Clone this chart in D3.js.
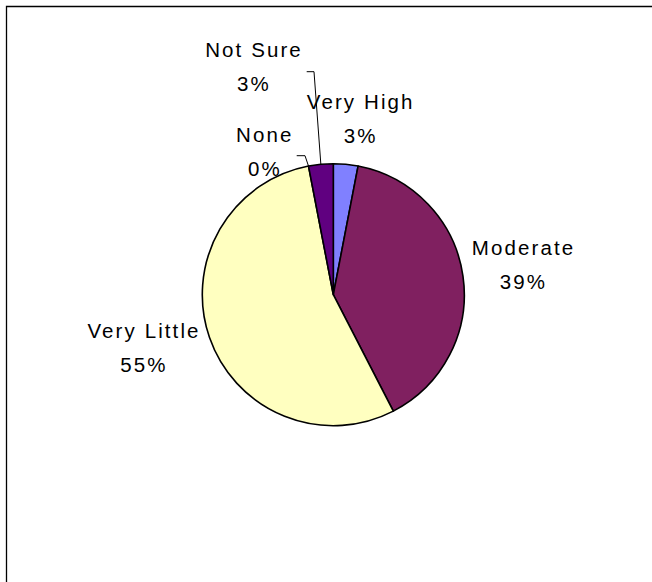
<!DOCTYPE html>
<html>
<head>
<meta charset="utf-8">
<script src="https://cdn.jsdelivr.net/npm/d3@7"></script>
<style>
  html, body { margin: 0; padding: 0; background: #fff; }
  svg { display: block; }
  text { font-family: "Liberation Sans", Arial, sans-serif; font-size: 20.5px; fill: #000; letter-spacing: 2.1px; }
</style>
</head>
<body>
<svg id="chart"></svg>
<script>
const categories = ['Very High', 'Moderate', 'Very Little', 'None', 'Not Sure']
const counts = [1, 13, 18, 0, 1]
const colors = ['#8080FF', '#802060', '#FFFFC0', '#C0FFFF', '#600080']
const pctLabels = ['3%', '39%', '55%', '0%', '3%']

const width = 652
const height = 582
const cx = 333.3
const cy = 294.7
const radius = 131

// label anchors (name baseline)
const labelPos = [[359.7, 109.3], [522.5, 255], [143, 338.3], [263.8, 141.7], [253, 57.3]]
const lineGap = 34

const svg = d3.select('#chart')
  .attr('width', width)
  .attr('height', height)

svg.append('path')
  .attr('d', 'M6.5,' + (height + 5) + 'V6.5H' + (width + 5))
  .attr('fill', 'none')
  .attr('stroke', '#000')
  .attr('stroke-width', 1.3)

const data = categories.map((name, i) => ({ name, value: counts[i], color: colors[i], pct: pctLabels[i], pos: labelPos[i] }))

const pie = d3.pie().sort(null).value(d => d.value)
const arc = d3.arc().innerRadius(0).outerRadius(radius)
const arcs = pie(data)

const g = svg.append('g').attr('transform', 'translate(' + cx + ',' + cy + ')')

g.selectAll('path')
  .data(arcs.filter(d => d.value > 0))
  .enter().append('path')
  .attr('d', arc)
  .attr('fill', d => d.data.color)
  .attr('stroke', '#000')
  .attr('stroke-width', 1.6)
  .attr('stroke-linejoin', 'round')

// leader lines for the two small labels at the top-left
const edge = a => [cx + radius * Math.sin(a), cy - radius * Math.cos(a)]
const leaders = [
  { i: 4, pts: [[306.7, 71.7], [314, 71.7]] },
  { i: 3, pts: [[296.7, 155.7], [305, 155.7]] }
]
leaders.forEach(l => {
  const a = arcs[l.i]
  const end = edge((a.startAngle + a.endAngle) / 2)
  svg.append('path')
    .attr('d', d3.line()(l.pts.concat([end])))
    .attr('fill', 'none')
    .attr('stroke', '#000')
    .attr('stroke-width', 1)
})

const labels = svg.selectAll('g.lab')
  .data(data)
  .enter().append('g')
  .attr('class', 'lab')

labels.append('text')
  .attr('x', d => d.pos[0] + 1)
  .attr('y', d => d.pos[1])
  .attr('text-anchor', 'middle')
  .text(d => d.name)

labels.append('text')
  .attr('x', d => d.pos[0] + 1)
  .attr('y', d => d.pos[1] + lineGap)
  .attr('text-anchor', 'middle')
  .text(d => d.pct)
</script>
</body>
</html>
